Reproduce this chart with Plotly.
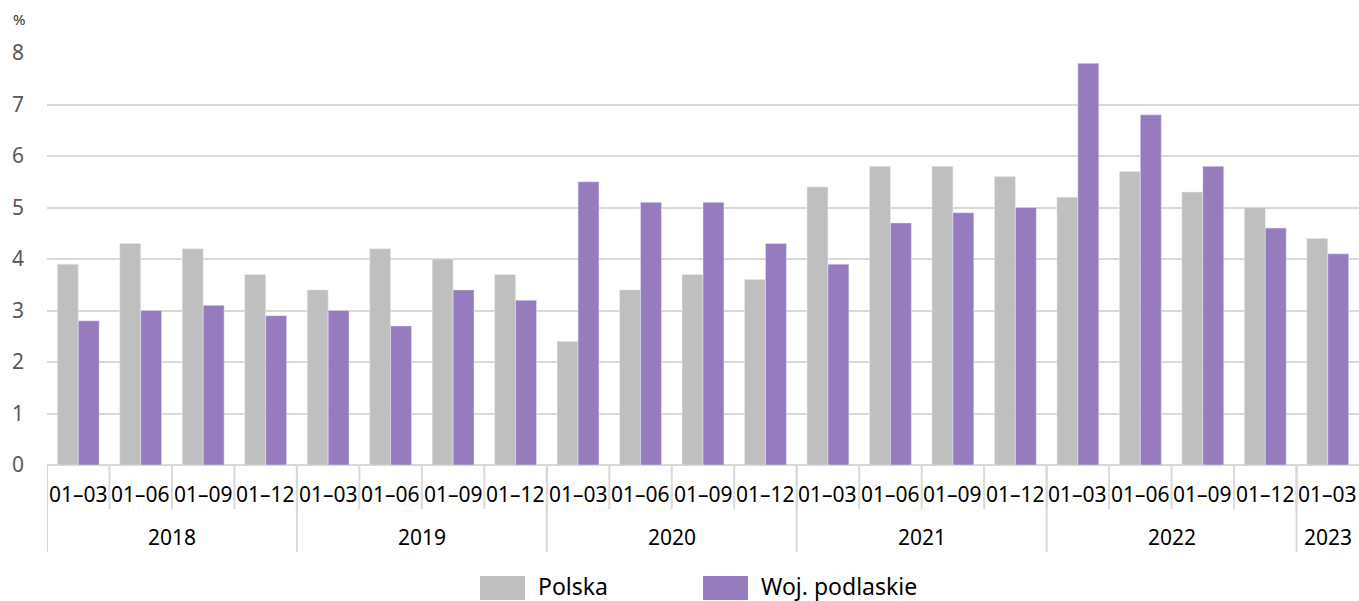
import plotly.graph_objects as go

# data
years = ["2018", "2019", "2020", "2021", "2022", "2023"]
quarters = ["01–03", "01–06", "01–09", "01–12"]
year_counts = [4, 4, 4, 4, 4, 1]

polska = [3.9, 4.3, 4.2, 3.7,
          3.4, 4.2, 4.0, 3.7,
          2.4, 3.4, 3.7, 3.6,
          5.4, 5.8, 5.8, 5.6,
          5.2, 5.7, 5.3, 5.0,
          4.4]
podlaskie = [2.8, 3.0, 3.1, 2.9,
             3.0, 2.7, 3.4, 3.2,
             5.5, 5.1, 5.1, 4.3,
             3.9, 4.7, 4.9, 5.0,
             7.8, 6.8, 5.8, 4.6,
             4.1]

GRAY = "#bfbfbf"
PURPLE = "#967bbf"
LINE = "#d9d9d9"
FONT = "Noto Sans"

# build quarter labels per category
q_labels = []
for n in year_counts:
    q_labels += quarters[:n]
x = list(range(len(q_labels)))

fig = go.Figure()
fig.add_trace(go.Bar(x=x, y=polska, name="Polska", marker_color=GRAY,
                     showlegend=False))
fig.add_trace(go.Bar(x=x, y=podlaskie, name="Woj. podlaskie", marker_color=PURPLE,
                     showlegend=False))

annotations = []
shapes = []

# quarter labels and short dividers (yref paper so they are not clipped to the plot)
for i, lab in enumerate(q_labels):
    annotations.append(dict(x=i, y=0, xref="x", yref="y", text=lab, showarrow=False,
                            yanchor="middle", yshift=-29,
                            font=dict(family=FONT, size=21, color="#000")))
    shapes.append(dict(type="line", xref="x", yref="paper", ysizemode="pixel", yanchor=0,
                       x0=i - 0.5, x1=i - 0.5, y0=0, y1=-44,
                       line=dict(color=LINE, width=2)))

# year labels and long dividers
start = 0
for yr, n in zip(years, year_counts):
    annotations.append(dict(x=start + (n - 1) / 2, y=0, xref="x", yref="y", text=yr,
                            showarrow=False, yanchor="middle", yshift=-72,
                            font=dict(family=FONT, size=21, color="#000")))
    shapes.append(dict(type="line", xref="x", yref="paper", ysizemode="pixel", yanchor=0,
                       x0=start - 0.5, x1=start - 0.5, y0=0, y1=-87,
                       line=dict(color=LINE, width=2)))
    start += n

# unit label
annotations.append(dict(x=0, y=1, xref="paper", yref="paper", text="%", showarrow=False,
                        xanchor="left", yanchor="bottom", xshift=-36, yshift=22,
                        font=dict(family=FONT, size=15, color="#333")))

# manual legend (wide swatches)
legend_items = [("Polska", GRAY, 480), ("Woj. podlaskie", PURPLE, 703)]
for name, col, px in legend_items:
    shapes.append(dict(type="rect", xref="paper", yref="paper",
                       xsizemode="pixel", ysizemode="pixel", xanchor=0, yanchor=0,
                       x0=px - 47, x1=px - 47 + 45, y0=-111, y1=-135,
                       fillcolor=col, line=dict(width=0)))
    annotations.append(dict(x=0, y=0, xref="paper", yref="paper", text=name,
                            showarrow=False, xanchor="left", yanchor="middle",
                            xshift=px - 47 + 56, yshift=-121,
                            font=dict(family=FONT, size=23, color="#000")))

fig.update_layout(
    width=1359, height=601,
    barmode="group", bargap=0.33, bargroupgap=0,
    plot_bgcolor="white", paper_bgcolor="white",
    margin=dict(l=47, r=0, t=53, b=136),
    font=dict(family=FONT),
    annotations=annotations,
    shapes=shapes,
)
fig.update_xaxes(range=[-0.5, len(x) - 0.5], showticklabels=False, showgrid=False,
                 zeroline=False, showline=False)
fig.update_yaxes(range=[0, 8], dtick=1, showgrid=True, gridcolor=LINE, gridwidth=2,
                 zeroline=True, zerolinecolor=LINE, zerolinewidth=2,
                 ticklabelstandoff=22,
                 tickfont=dict(family=FONT, size=21, color="#595959"))

# drop the default page margin so the figure sits at the window corner
fig.write_html("out.html", config={"displayModeBar": False},
               post_script="document.body.style.margin='0';")
